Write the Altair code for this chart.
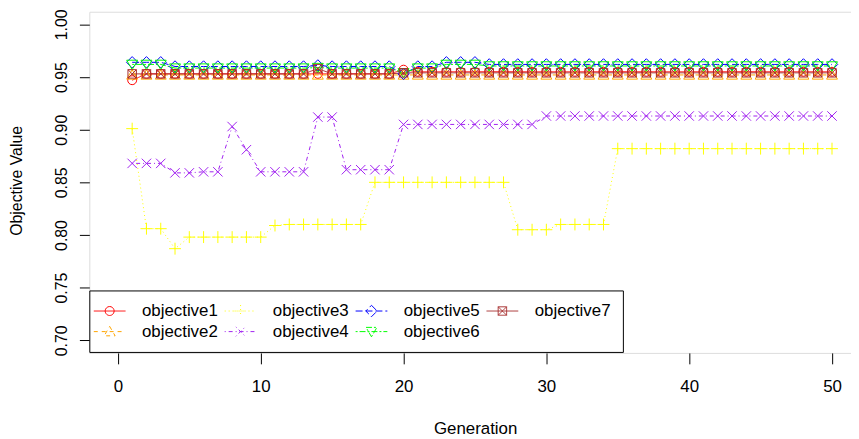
import altair as alt
import pandas as pd

generation = list(range(1, 51))
names = ["objective1", "objective2", "objective3", "objective4",
         "objective5", "objective6", "objective7"]

obj1 = [0.947, 0.953, 0.953, 0.953, 0.953, 0.953, 0.953, 0.953, 0.953, 0.953,
        0.953, 0.953, 0.953, 0.953, 0.953, 0.953, 0.953, 0.953, 0.953, 0.957,
        0.955, 0.955, 0.955, 0.955, 0.955, 0.955, 0.955, 0.955, 0.955, 0.955,
        0.955, 0.955, 0.955, 0.955, 0.955, 0.955, 0.955, 0.955, 0.955, 0.955,
        0.955, 0.955, 0.955, 0.955, 0.955, 0.955, 0.955, 0.955, 0.955, 0.955]
obj2 = [0.952, 0.952, 0.952, 0.952, 0.952, 0.952, 0.952, 0.952, 0.952, 0.952,
        0.952, 0.952, 0.952, 0.952, 0.952, 0.952, 0.952, 0.952, 0.952, 0.952,
        0.952, 0.952, 0.952, 0.952, 0.952, 0.952, 0.952, 0.952, 0.952, 0.952,
        0.952, 0.952, 0.952, 0.952, 0.952, 0.952, 0.952, 0.952, 0.952, 0.952,
        0.952, 0.952, 0.952, 0.952, 0.952, 0.952, 0.952, 0.952, 0.952, 0.952]
obj3 = [0.901, 0.806, 0.806, 0.787, 0.798, 0.798, 0.798, 0.798, 0.798, 0.798,
        0.809, 0.810, 0.810, 0.810, 0.810, 0.810, 0.810, 0.850, 0.850, 0.850,
        0.850, 0.850, 0.850, 0.850, 0.850, 0.850, 0.850, 0.805, 0.805, 0.805,
        0.810, 0.810, 0.810, 0.810, 0.882, 0.882, 0.882, 0.882, 0.882, 0.882,
        0.882, 0.882, 0.882, 0.882, 0.882, 0.882, 0.882, 0.882, 0.882, 0.882]
obj4 = [0.868, 0.868, 0.868, 0.859, 0.859, 0.860, 0.860, 0.903, 0.881, 0.860,
        0.860, 0.860, 0.860, 0.912, 0.912, 0.862, 0.862, 0.862, 0.862, 0.905,
        0.905, 0.905, 0.905, 0.905, 0.905, 0.905, 0.905, 0.905, 0.905, 0.913,
        0.913, 0.913, 0.913, 0.913, 0.913, 0.913, 0.913, 0.913, 0.913, 0.913,
        0.913, 0.913, 0.913, 0.913, 0.913, 0.913, 0.913, 0.913, 0.913, 0.913]
obj5 = [0.964, 0.964, 0.964, 0.960, 0.960, 0.960, 0.960, 0.960, 0.960, 0.960,
        0.960, 0.960, 0.960, 0.961, 0.960, 0.960, 0.960, 0.960, 0.960, 0.953,
        0.960, 0.960, 0.964, 0.964, 0.964, 0.962, 0.962, 0.962, 0.962, 0.962,
        0.962, 0.962, 0.962, 0.962, 0.962, 0.962, 0.962, 0.962, 0.962, 0.962,
        0.962, 0.962, 0.962, 0.962, 0.962, 0.962, 0.962, 0.962, 0.962, 0.962]
obj6 = [0.962, 0.962, 0.962, 0.9585, 0.9585, 0.9585, 0.9585, 0.9585, 0.9585, 0.9585,
        0.9585, 0.9585, 0.9585, 0.959, 0.9585, 0.9585, 0.9585, 0.9585, 0.9585, 0.954,
        0.9585, 0.9585, 0.962, 0.962, 0.962, 0.9605, 0.9605, 0.9605, 0.9605, 0.9605,
        0.9605, 0.9605, 0.9605, 0.9605, 0.9605, 0.9605, 0.9605, 0.9605, 0.9605, 0.9605,
        0.9605, 0.9605, 0.9605, 0.9605, 0.9605, 0.9605, 0.9605, 0.9605, 0.9605, 0.9605]
obj7 = [0.953, 0.953, 0.953, 0.953, 0.953, 0.953, 0.953, 0.953, 0.953, 0.953,
        0.953, 0.953, 0.953, 0.958, 0.953, 0.953, 0.953, 0.953, 0.953, 0.954,
        0.954, 0.954, 0.954, 0.954, 0.954, 0.954, 0.954, 0.954, 0.954, 0.954,
        0.954, 0.954, 0.954, 0.954, 0.954, 0.954, 0.954, 0.954, 0.954, 0.954,
        0.954, 0.954, 0.954, 0.954, 0.954, 0.954, 0.954, 0.954, 0.954, 0.954]
series_values = [obj1, obj2, obj3, obj4, obj5, obj6, obj7]

x_ticks = [0, 10, 20, 30, 40, 50]
y_ticks = [0.70, 0.75, 0.80, 0.85, 0.90, 0.95, 1.00]

colors = ["#FF0000", "#FFA500", "#FFFF00", "#A020F0", "#0000FF", "#00FF00", "#A52A2A"]
dashes = [[1, 0], [4, 4], [1, 3], [1, 3, 4, 3], [7, 3], [2, 2, 6, 2], [1, 0]]

# marker outlines (R pch 1..7) as unit paths, drawn at size 100 (5 px per unit)
marker_paths = [
    "M0.9,0A0.9,0.9 0 1,1 -0.9,0A0.9,0.9 0 1,1 0.9,0",
    "M0,-1.05L1.1,0.85L-1.1,0.85Z",
    "M-1.2,0H1.2M0,-1.2V1.2",
    "M-0.95,-0.95L0.95,0.95M-0.95,0.95L0.95,-0.95",
    "M0,-1.15L1.15,0L0,1.15L-1.15,0Z",
    "M0,1.05L1.1,-0.85L-1.1,-0.85Z",
    "M-0.85,-0.85H0.85V0.85H-0.85ZM-0.85,-0.85L0.85,0.85M-0.85,0.85L0.85,-0.85",
]
legend_paths = ["M-3.2,0H3.2" + p for p in marker_paths]

rows = []
for name, vals in zip(names, series_values):
    for g, v in zip(generation, vals):
        rows.append({"Generation": g, "value": v, "series": name})
df = pd.DataFrame(rows)

FONT = "Liberation Sans"

x_enc = alt.X("Generation:Q",
              scale=alt.Scale(domain=[-2, 51.33], nice=False, zero=False),
              axis=alt.Axis(values=x_ticks, title="Generation", format="d",
                            grid=False, domain=False, tickColor="black", tickWidth=1,
                            tickSize=11, labelPadding=15, labelFontSize=17,
                            labelFont=FONT, labelColor="black",
                            titleFont=FONT, titleColor="black", titleFontWeight="normal",
                            titleFontSize=17, titleX=389, titleY=81,
                            titleBaseline="alphabetic", titleAlign="center",
                            labelFlush=False))
y_enc = alt.Y("value:Q",
              scale=alt.Scale(domain=[0.688, 1.012], nice=False, zero=False),
              axis=alt.Axis(values=y_ticks, format=".2f", title="Objective Value",
                            grid=False, domain=False, tickColor="black", tickWidth=1,
                            tickSize=10, labelPadding=13, labelAngle=270,
                            labelAlign="center", labelBaseline="alphabetic",
                            labelFont=FONT, labelColor="black",
                            labelFontSize=16, titleFontSize=16, titleAngle=270,
                            titleFont=FONT, titleColor="black", titleFontWeight="normal",
                            titleX=-68.5, titleY=170, titleBaseline="alphabetic",
                            titleAlign="center", labelFlush=False))

base = alt.Chart(df)

lines = base.mark_line(strokeWidth=1).encode(
    x=x_enc, y=y_enc,
    color=alt.Color("series:N", scale=alt.Scale(domain=names, range=colors), legend=None),
    strokeDash=alt.StrokeDash("series:N", scale=alt.Scale(domain=names, range=dashes), legend=None),
    order=alt.Order("Generation:Q"),
)

points = base.mark_point(filled=False, size=100, strokeWidth=1, opacity=1).encode(
    x=x_enc, y=y_enc,
    color=alt.Color("series:N", scale=alt.Scale(domain=names, range=colors), legend=None),
    shape=alt.Shape("series:N", scale=alt.Scale(domain=names, range=marker_paths), legend=None),
)

legend_layer = alt.Chart(df[df["Generation"] == 1]).mark_point(
    filled=False, size=100, strokeWidth=1, opacity=0
).encode(
    x=x_enc, y=y_enc,
    color=alt.Color("series:N", scale=alt.Scale(domain=names, range=colors),
                    legend=alt.Legend(title=None, orient="none", legendX=0, legendY=281,
                                      columns=4, padding=12, rowPadding=3,
                                      columnPadding=4, labelOffset=24,
                                      symbolStrokeWidth=1, labelFont=FONT,
                                      labelFontSize=17, labelColor="black",
                                      strokeColor="black", fillColor="white",
                                      symbolOpacity=1, cornerRadius=0)),
    shape=alt.Shape("series:N", scale=alt.Scale(domain=names, range=legend_paths)),
    strokeDash=alt.StrokeDash("series:N", scale=alt.Scale(domain=names, range=dashes)),
)

chart = alt.layer(lines, points, legend_layer).resolve_scale(
    color="independent", shape="independent", strokeDash="independent"
).properties(
    width=768, height=344,
    autosize=alt.AutoSizeParams(type="none"),
    padding={"left": 82, "top": 2, "right": 0, "bottom": 85},
).configure_view(
    stroke="black", strokeWidth=1
).configure(background="white")

chart.save("out.html", embed_options={"renderer": "svg", "actions": False})
